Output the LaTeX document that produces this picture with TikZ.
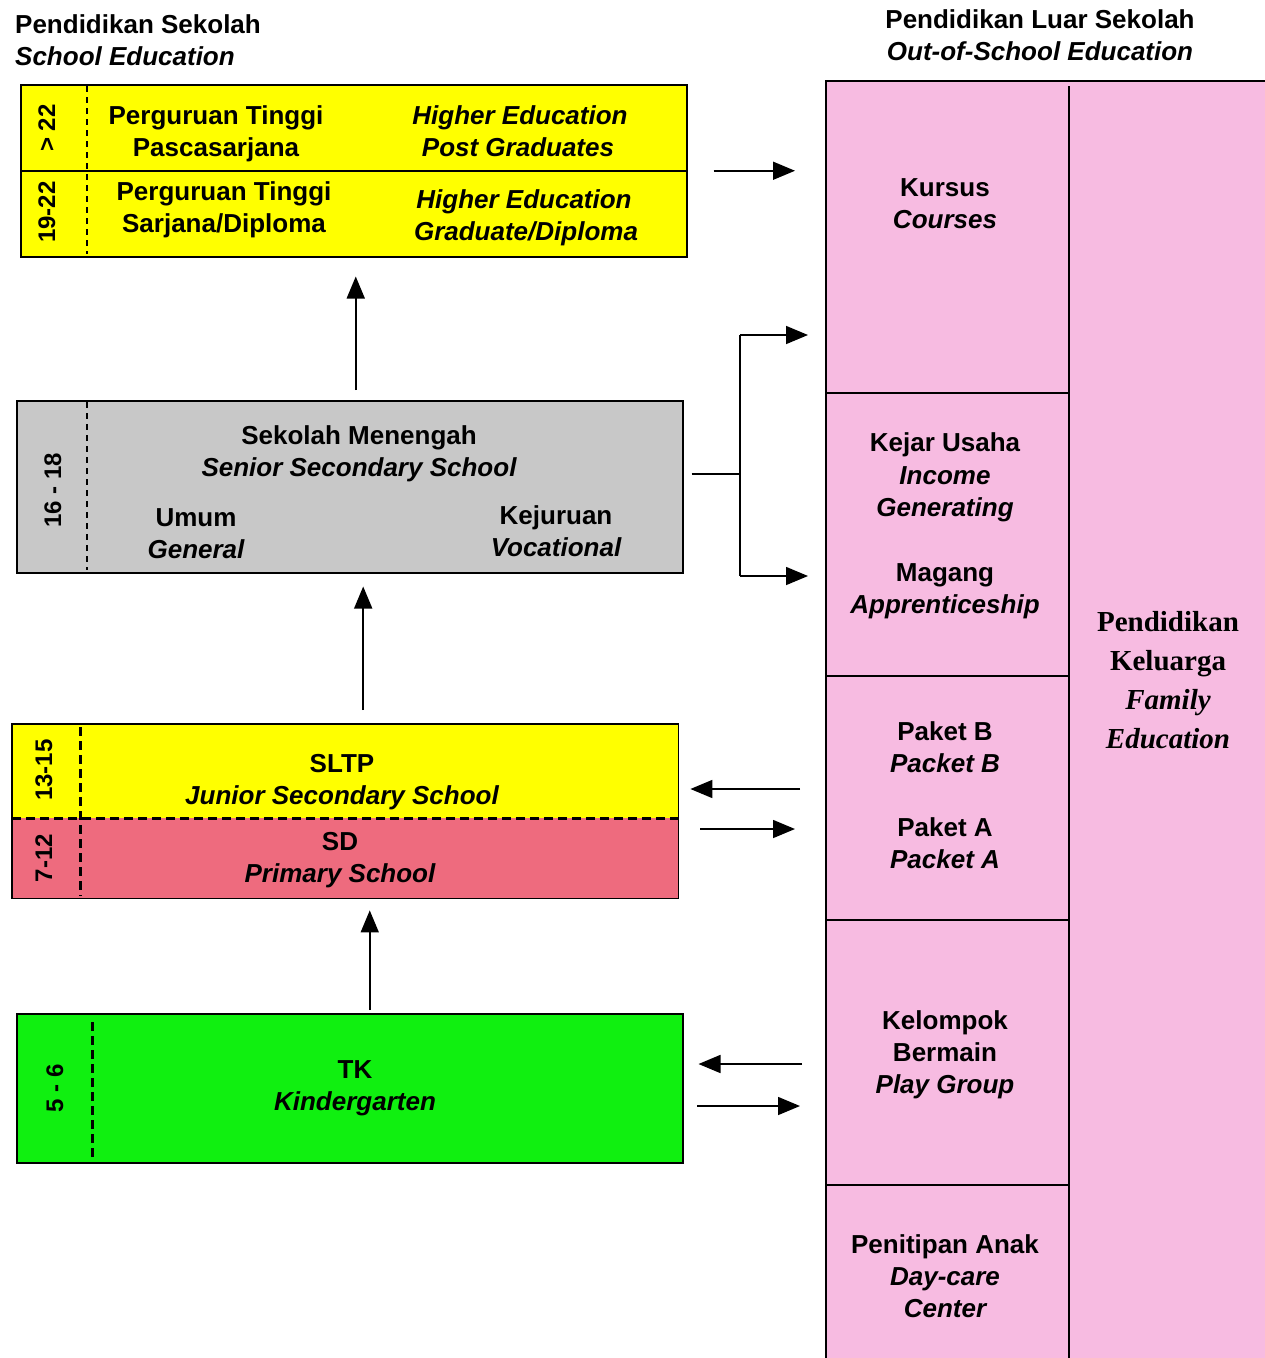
\documentclass[tikz,border=0pt]{standalone}
\usepackage{fontspec}
\setmainfont{Liberation Sans}
\newfontfamily\kelfont{Liberation Serif}
\usetikzlibrary{arrows.meta}

\definecolor{hiyellow}{RGB}{255,255,0}
\definecolor{midgray}{RGB}{200,200,200}
\definecolor{sdred}{RGB}{238,107,126}
\definecolor{tkgreen}{RGB}{16,240,16}
\definecolor{luarpink}{RGB}{247,187,225}

\begin{document}
\begin{tikzpicture}[x=1pt, y=-1pt,
  every node/.style={inner sep=0pt, text height=16pt, text depth=0pt,
    font=\fontsize{26}{32}\selectfont\bfseries},
  box/.style={draw=black, line width=1.5pt, anchor=north west},
  en/.style={font=\fontsize{26}{32}\selectfont\bfseries\itshape},
  age/.style={rotate=90, font=\fontsize{24}{28}\selectfont\bfseries},
  kel/.style={font=\fontsize{29}{39}\selectfont\kelfont\bfseries},
  agedash/.style={dash pattern=on 6pt off 5pt, line width=1.2pt},
  thickdash/.style={dash pattern=on 9pt off 5pt, line width=3pt},
  arr/.style={-{Triangle[length=22pt,width=18pt]}, line width=1.6pt}]
  \useasboundingbox (0,0) rectangle (1265,1358);

  % headers
  \node[anchor=west] (schoolhead) at (15,25) {Pendidikan Sekolah};
  \node[en, anchor=west] (schoolheaden) at (15,57) {School Education};
  \node (luarhead) at (1040,20) {Pendidikan Luar Sekolah};
  \node[en] (luarheaden) at (1040,52) {Out-of-School Education};

  % higher education
  \node[box, fill=hiyellow, minimum width=666pt, minimum height=172pt] (higher) at (20,84) {};
  \draw[line width=1.5pt] (higher.west) -- (higher.east);
  \draw[agedash] (87,86) -- (87,254);
  \node[age] (agepasca) at (47,128) {> 22};
  \node[age] (agesarjana) at (47,212) {19-22};
  \node (pasca) at (216,116) {Perguruan Tinggi};
  \node (pasca2) at (216,148) {Pascasarjana};
  \node[en] (pascaen) at (520,116) {Higher Education};
  \node[en] (pascaen2) at (518,148) {Post Graduates};
  \node (sarjana) at (224,192) {Perguruan Tinggi};
  \node (sarjana2) at (224,224) {Sarjana/Diploma};
  \node[en] (sarjanaen) at (524,200) {Higher Education};
  \node[en] (sarjanaen2) at (526,232) {Graduate/Diploma};

  % senior secondary
  \node[box, fill=midgray, minimum width=666pt, minimum height=172pt] (senior) at (16,400) {};
  \draw[agedash] (87,402) -- (87,570);
  \node[age] (agesenior) at (53,490) {16 - 18};
  \node (menengah) at (359,436) {Sekolah Menengah};
  \node[en] (menengahen) at (359,468) {Senior Secondary School};
  \node (umum) at (196,518) {Umum};
  \node[en] (umumen) at (196,550) {General};
  \node (kejuruan) at (556,516) {Kejuruan};
  \node[en] (kejuruanen) at (556,548) {Vocational};

  % junior secondary and primary
  \node[fill=hiyellow, anchor=north west, minimum width=666pt, minimum height=94pt] (junior) at (12,724) {};
  \node[fill=sdred, anchor=north west, minimum width=666pt, minimum height=80pt] (primary) at (12,818) {};
  \draw[line width=1.5pt] (junior.north west) rectangle (primary.south east);
  \draw[thickdash] (80,727) -- (80,896);
  \draw[thickdash] (junior.south west) -- (junior.south east);
  \node[age] (agejunior) at (44,770) {13-15};
  \node[age] (ageprimary) at (44,858) {7-12};
  \node (sltp) at (342,764) {SLTP};
  \node[en] (sltpen) at (342,796) {Junior Secondary School};
  \node (sd) at (340,842) {SD};
  \node[en] (sden) at (340,874) {Primary School};

  % kindergarten
  \node[box, fill=tkgreen, minimum width=666pt, minimum height=149pt] (kinder) at (16,1013) {};
  \draw[thickdash] (92,1022) -- (92,1160);
  \node[age] (agekinder) at (55,1088) {5 - 6};
  \node (tk) at (355,1070) {TK};
  \node[en] (tken) at (355,1102) {Kindergarten};

  % out-of-school education
  \node[box, fill=luarpink, minimum width=460pt, minimum height=1300pt] (luar) at (825,80) {};
  \draw[line width=1.5pt] (1069,86) -- (1069,1370);
  \draw[line width=1.5pt] (825,393) -- (1069,393);
  \draw[line width=1.5pt] (825,676) -- (1069,676);
  \draw[line width=1.5pt] (825,920) -- (1069,920);
  \draw[line width=1.5pt] (825,1185) -- (1069,1185);
  \node (kursus) at (945,188) {Kursus};
  \node[en] (kursusen) at (945,220) {Courses};
  \node (kejar) at (945,443) {Kejar Usaha};
  \node[en] (kejaren) at (945,476) {Income};
  \node[en] (kejaren2) at (945,508) {Generating};
  \node (magang) at (945,573) {Magang};
  \node[en] (magangen) at (945,605) {Apprenticeship};
  \node (paketb) at (945,732) {Paket B};
  \node[en] (paketben) at (945,764) {Packet B};
  \node (paketa) at (945,828) {Paket A};
  \node[en] (paketaen) at (945,860) {Packet A};
  \node (kelompok) at (945,1021) {Kelompok};
  \node (bermain) at (945,1053) {Bermain};
  \node[en] (bermainen) at (945,1085) {Play Group};
  \node (titip) at (945,1245) {Penitipan Anak};
  \node[en] (titipen) at (945,1277) {Day-care};
  \node[en] (titipen2) at (945,1309) {Center};
  \node[kel] (keluarga) at (1168,623) {Pendidikan};
  \node[kel] (keluarga2) at (1168,662) {Keluarga};
  \node[kel, font=\fontsize{29}{39}\selectfont\kelfont\bfseries\itshape] (keluargaen) at (1168,701) {Family};
  \node[kel, font=\fontsize{29}{39}\selectfont\kelfont\bfseries\itshape] (keluargaen2) at (1168,740) {Education};

  % arrows up the school ladder
  \draw[arr, shorten <=10pt, shorten >=19pt] ([xshift=6pt]senior.north) -- ([xshift=6pt]senior.north |- higher.south);
  \draw[arr, shorten <=14pt, shorten >=13pt] ([xshift=18pt]junior.north) -- ([xshift=18pt]junior.north |- senior.south);
  \draw[arr, shorten <=3pt, shorten >=12pt] ([xshift=20pt]kinder.north) -- ([xshift=20pt]kinder.north |- primary.south);

  % arrows to and from out-of-school
  \draw[arr, shorten <=26pt, shorten >=30pt] (higher.east) -- (higher.east -| luar.west);
  \coordinate (fork) at (740,474);
  \coordinate (forkup) at (740,335);
  \coordinate (forkdown) at (740,576);
  \draw[line width=1.5pt, shorten <=8pt] (fork -| senior.east) -- (fork);
  \draw[line width=1.5pt] (forkup) -- (forkdown);
  \draw[arr, shorten >=17pt] (forkup) -- (forkup -| luar.west);
  \draw[arr, shorten >=17pt] (forkdown) -- (forkdown -| luar.west);
  \coordinate (fromb) at (800,789);
  \draw[arr, shorten >=12pt] (fromb) -- (fromb -| junior.east);
  \coordinate (toa) at (700,829);
  \draw[arr, shorten >=30pt] (toa) -- (toa -| luar.west);
  \coordinate (fromkb) at (802,1064);
  \draw[arr, shorten >=15pt] (fromkb) -- (fromkb -| kinder.east);
  \coordinate (tokb) at (697,1106);
  \draw[arr, shorten >=25pt] (tokb) -- (tokb -| luar.west);
\end{tikzpicture}
\end{document}
